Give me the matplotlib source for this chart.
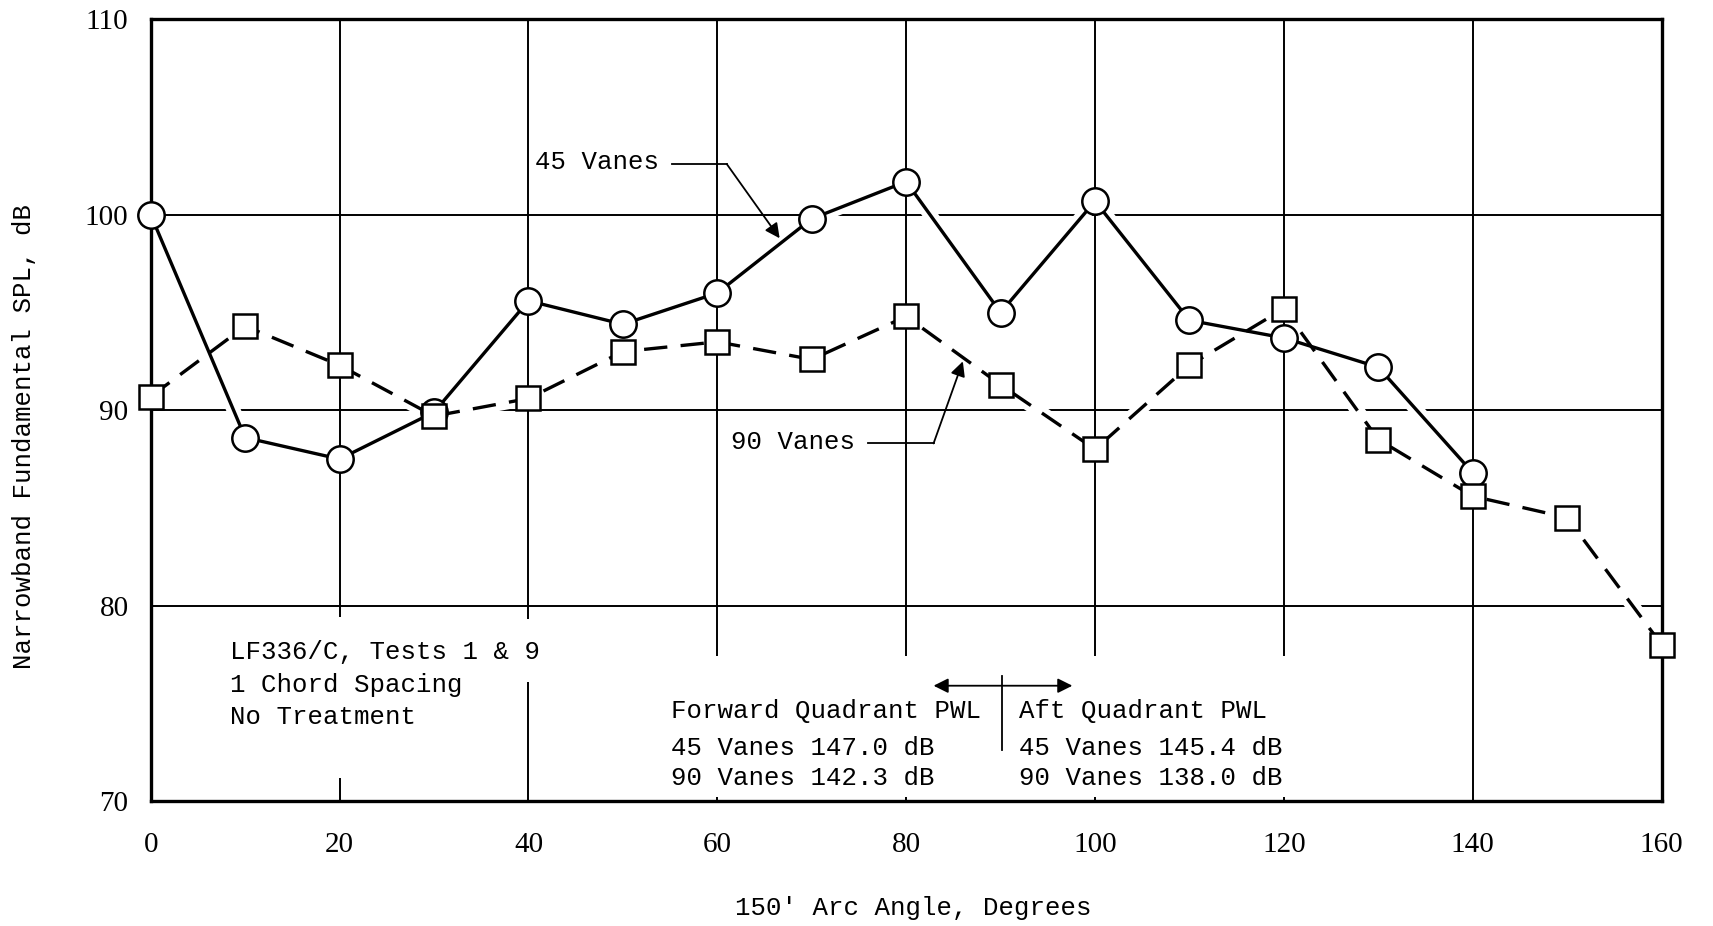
import numpy as np
import matplotlib.pyplot as plt
from matplotlib.patches import Rectangle

# 150' arc angle, degrees
angle45 = np.arange(0, 150, 10)
angle90 = np.arange(0, 170, 10)
# narrowband fundamental SPL, dB
spl45 = [100.0, 88.6, 87.5, 89.9, 95.6, 94.4, 96.0, 99.8, 101.7, 95.0, 100.7, 94.6, 93.7, 92.2, 86.8]
spl90 = [90.7, 94.3, 92.3, 89.7, 90.6, 93.0, 93.5, 92.6, 94.8, 91.3, 88.0, 92.3, 95.2, 88.5, 85.6, 84.5, 78.0]

xticks = [0, 20, 40, 60, 80, 100, 120, 140, 160]
yticks = [70, 80, 90, 100, 110]

note = ["LF336/C, Tests 1 & 9", "1 Chord Spacing", "No Treatment"]
fwd_head = "Forward Quadrant PWL"
aft_head = "Aft Quadrant PWL"
fwd_pwl = ["45 Vanes 147.0 dB", "90 Vanes 142.3 dB"]
aft_pwl = ["45 Vanes 145.4 dB", "90 Vanes 138.0 dB"]

mono = "Liberation Mono"
serif = "Liberation Serif"
fs = 18.5

fig, ax = plt.subplots(figsize=(17.13, 9.26), dpi=100)
fig.subplots_adjust(left=0.088, right=0.970, top=0.979, bottom=0.135)

ax.set_xlim(0, 160)
ax.set_ylim(70, 110)
ax.set_xticks(xticks)
ax.set_yticks(yticks)
ax.tick_params(length=0, pad=0)
for lab in ax.get_xticklabels() + ax.get_yticklabels():
    lab.set_fontfamily(serif)
    lab.set_fontsize(21)
ax.tick_params(axis="x", pad=22)
ax.tick_params(axis="y", pad=16)
ax.set_axisbelow(True)
ax.grid(True, color="black", linewidth=1.4)
for s in ax.spines.values():
    s.set_linewidth(2.4)
    s.set_zorder(2.5)

# blank out grid where the notes sit
ax.add_patch(Rectangle((56, 70.2), 67, 7.2, facecolor="white", edgecolor="none", zorder=1))
ax.add_patch(Rectangle((6, 71.2), 33, 8.2, facecolor="white", edgecolor="none", zorder=1))
ax.add_patch(Rectangle((39, 76.1), 4, 3.2, facecolor="white", edgecolor="none", zorder=1))

# white halo under the curves so grid breaks around them
ax.plot(angle45, spl45, color="white", linewidth=10, zorder=1.8, solid_capstyle="butt")
ax.plot(angle90, spl90, color="white", linewidth=10, zorder=1.8, solid_capstyle="butt")

ax.plot(angle45, spl45, color="black", linewidth=2.4, zorder=3, clip_on=False,
        marker="o", markersize=19, markerfacecolor="white",
        markeredgecolor="black", markeredgewidth=1.8)
ax.plot(angle90, spl90, color="black", linewidth=2.4, zorder=3, clip_on=False,
        linestyle=(0, (7, 4)),
        marker="s", markersize=17, markerfacecolor="white",
        markeredgecolor="black", markeredgewidth=1.8)

# curve labels with leaders
ax.text(40.7, 102.7, "45 Vanes", family=mono, fontsize=fs, va="center", ha="left")
ax.plot([55.2, 61.0], [102.6, 102.6], color="black", linewidth=1.3)
ax.annotate("", xy=(66.6, 98.8), xytext=(61.0, 102.6),
            arrowprops=dict(arrowstyle="-|>", color="black", lw=1.3, mutation_scale=22,
                            shrinkA=0, shrinkB=0))

ax.text(61.5, 88.35, "90 Vanes", family=mono, fontsize=fs, va="center", ha="left")
ax.plot([76.0, 82.9], [88.3, 88.3], color="black", linewidth=1.3)
ax.annotate("", xy=(86.0, 92.5), xytext=(82.9, 88.3),
            arrowprops=dict(arrowstyle="-|>", color="black", lw=1.3, mutation_scale=22,
                            shrinkA=0, shrinkB=0))

# test notes
for i, line in enumerate(note):
    ax.text(8.4, 77.6 - 1.65 * i, line, family=mono, fontsize=fs, va="center", ha="left", zorder=4)

# PWL table
ax.text(55.1, 74.6, fwd_head, family=mono, fontsize=fs, va="center", ha="left", zorder=4)
ax.text(91.9, 74.6, aft_head, family=mono, fontsize=fs, va="center", ha="left", zorder=4)
for i, (f, a) in enumerate(zip(fwd_pwl, aft_pwl)):
    ax.text(55.1, 72.7 - 1.5 * i, f, family=mono, fontsize=fs, va="center", ha="left", zorder=4)
    ax.text(91.9, 72.7 - 1.5 * i, a, family=mono, fontsize=fs, va="center", ha="left", zorder=4)
ax.plot([90.2, 90.2], [72.6, 76.4], color="black", linewidth=1.3, zorder=4)
ax.annotate("", xy=(97.6, 75.9), xytext=(82.9, 75.9),
            arrowprops=dict(arrowstyle="<|-|>", color="black", lw=1.3, mutation_scale=22,
                            shrinkA=0, shrinkB=0), zorder=4)

ax.set_xlabel("150' Arc Angle, Degrees", family=mono, fontsize=fs, va="center")
ax.xaxis.set_label_coords(0.505, -0.137)
ax.set_ylabel("Narrowband Fundamental SPL, dB", family=mono, fontsize=fs, va="center")
ax.yaxis.set_label_coords(-0.084, 0.466)

plt.savefig("out.png", dpi=100)
